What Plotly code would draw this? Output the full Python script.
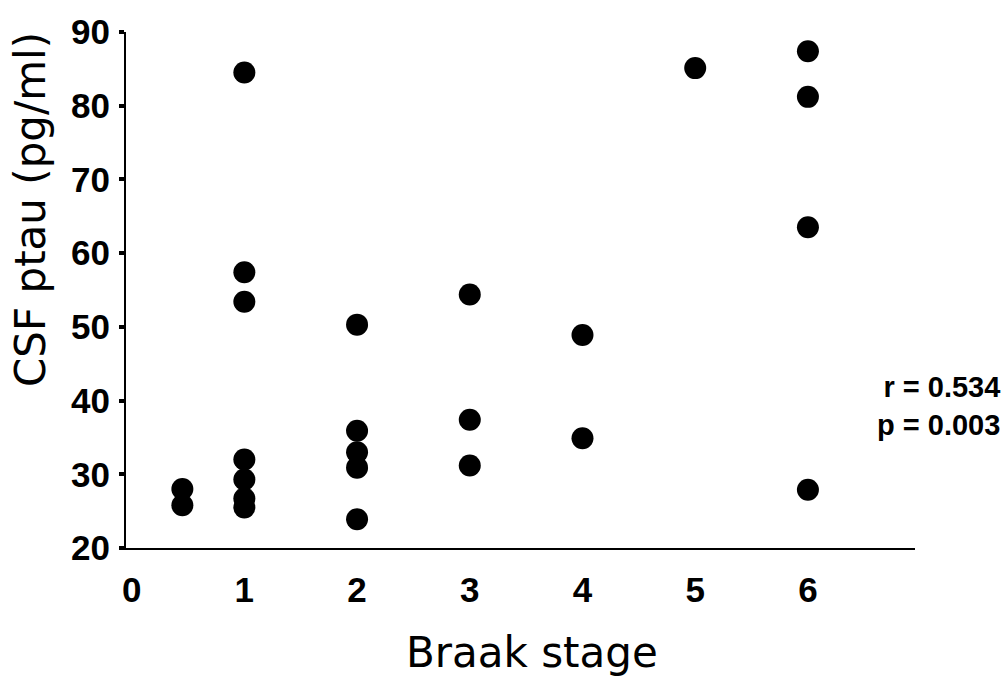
import plotly.graph_objects as go

# Data
braak_stage = [0.45, 0.45,
               1, 1, 1, 1, 1, 1, 1,
               2, 2, 2, 2, 2,
               3, 3, 3,
               4, 4,
               5,
               6, 6, 6, 6]
csf_ptau = [28.0, 25.8,
            84.5, 57.4, 53.4, 32.0, 29.3, 26.7, 25.5,
            50.3, 35.9, 33.0, 30.9, 23.9,
            54.4, 37.4, 31.2,
            48.9, 34.9,
            85.1,
            87.4, 81.2, 63.5, 27.9]
x_ticks = [0, 1, 2, 3, 4, 5, 6]
y_ticks = [20, 30, 40, 50, 60, 70, 80, 90]
x_title = "Braak stage"
y_title = "CSF ptau (pg/ml)"
stats_text = "r = 0.534<br>p = 0.003"

fig = go.Figure()
fig.add_trace(go.Scatter(
    x=braak_stage, y=csf_ptau, mode="markers",
    marker=dict(color="black", size=22, line=dict(width=0)),
    showlegend=False, cliponaxis=False,
))

tick_font = dict(family="Liberation Sans Narrow, Arial Narrow, Liberation Sans, Arial", size=35, color="black", weight="bold")
title_font = dict(family="DejaVu Sans, Verdana, sans-serif", size=42, color="black")

fig.update_layout(
    width=1007, height=678,
    margin=dict(l=126, r=92, t=24, b=130),
    paper_bgcolor="white", plot_bgcolor="white",
    xaxis=dict(
        range=[-0.05, 6.95], tickmode="array", tickvals=x_ticks,
        ticktext=[str(v) for v in x_ticks],
        showgrid=False, zeroline=False, showline=True, linecolor="black", linewidth=2,
        ticks="", tickfont=tick_font, ticklabelstandoff=10,
    ),
    yaxis=dict(
        range=[20, 90], tickmode="array", tickvals=y_ticks,
        ticktext=[str(v) for v in y_ticks],
        showgrid=False, zeroline=False, showline=True, linecolor="black", linewidth=2,
        ticks="outside", ticklen=5, tickwidth=4, tickcolor="black",
        tickfont=tick_font, ticklabelstandoff=2,
    ),
)

# axis titles (placed as in the reference)
fig.add_annotation(
    x=0.515, y=0, xref="paper", yref="paper", xanchor="center", yanchor="middle",
    yshift=-104, text=x_title, showarrow=False, font=title_font,
)
fig.add_annotation(
    x=0, y=0.655, xref="paper", yref="paper", xanchor="center", yanchor="middle",
    xshift=-96, text=y_title, textangle=-90, showarrow=False, font=title_font,
)

fig.add_annotation(
    x=1.0, y=39.3, xref="paper", yref="y", xanchor="right", yanchor="middle",
    xshift=87, text=stats_text, showarrow=False, align="right",
    font=dict(family="Liberation Sans Narrow, Arial Narrow, Liberation Sans, Arial", size=29, color="black", weight="bold"),
)

fig.write_html("out.html")
